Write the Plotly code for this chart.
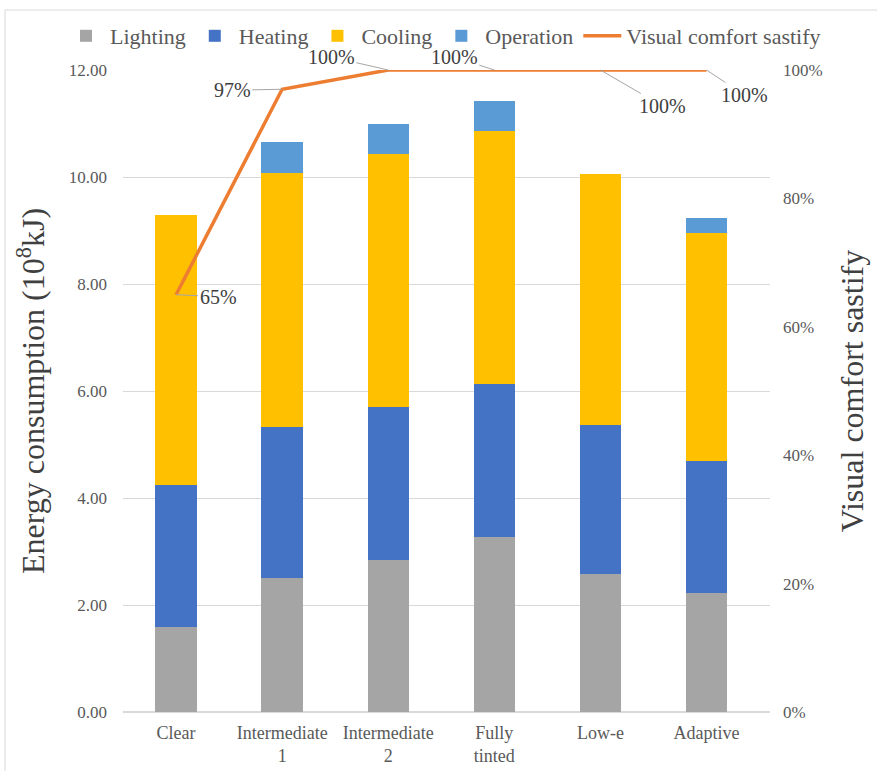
import plotly.graph_objects as go

# Glazing options and annual energy breakdown (10^8 kJ)
categories = ["Clear", "Intermediate<br>1", "Intermediate<br>2", "Fully<br>tinted", "Low-e", "Adaptive"]
lighting = [1.59, 2.50, 2.84, 3.27, 2.58, 2.22]
heating = [2.65, 2.83, 2.86, 2.86, 2.78, 2.47]
cooling = [5.05, 4.74, 4.73, 4.73, 4.70, 4.26]
operation = [0.00, 0.58, 0.56, 0.56, 0.00, 0.28]
comfort = [0.65, 0.97, 1.00, 1.00, 1.00, 1.00]
comfort_labels = ["65%", "97%", "100%", "100%", "100%", "100%"]

# label offsets (px) for the comfort data labels
label_dx = [42, -50, -57, -40, 62, 38]
label_dy = [2, 1, -13, -13, 36, 25]

FONT = "Liberation Serif"
GRAY_TXT = "#595959"

fig = go.Figure()
for name, vals, col in [("Lighting", lighting, "#A5A5A5"),
                        ("Heating", heating, "#4472C4"),
                        ("Cooling", cooling, "#FFC000"),
                        ("Operation", operation, "#5B9BD5")]:
    fig.add_trace(go.Bar(x=categories, y=vals, name=name, marker_color=col,
                         marker_line_width=0, width=0.39))

fig.add_trace(go.Scatter(x=categories, y=comfort, name="Visual comfort sastify",
                         mode="lines", line=dict(color="#ED7D31", width=3.5),
                         yaxis="y2"))

for c, v, t, dx, dy in zip(categories, comfort, comfort_labels, label_dx, label_dy):
    fig.add_annotation(x=c, y=v, xref="x", yref="y2", text=t, showarrow=True,
                       arrowhead=0, arrowwidth=1, arrowcolor="#A6A6A6",
                       ax=dx, ay=dy, font=dict(family=FONT, size=20, color="#404040"))

L, R, T, B = 123, 107, 70, 59
W, H = 877, 771
pw, ph = W - L - R, H - T - B

def px(xp):
    return (xp - L) / pw

def py(yp):
    return (H - B - yp) / ph

# outer chart frame (top and left edges)
fig.add_shape(type="line", xref="paper", yref="paper", x0=px(5), x1=px(877),
              y0=py(10), y1=py(10), line=dict(color="#D9D9D9", width=1))
fig.add_shape(type="line", xref="paper", yref="paper", x0=px(5), x1=px(5),
              y0=py(10), y1=py(771), line=dict(color="#D9D9D9", width=1))

fig.update_layout(
    width=W, height=H,
    margin=dict(l=L, r=R, t=T, b=B, autoexpand=False),
    barmode="stack",
    plot_bgcolor="white", paper_bgcolor="white",
    font=dict(family=FONT, color=GRAY_TXT),
    legend=dict(orientation="h", x=px(62), xanchor="left", y=py(36), yanchor="middle",
                font=dict(family=FONT, size=22, color=GRAY_TXT), traceorder="normal",
                itemwidth=38, bgcolor="rgba(0,0,0,0)"),
    xaxis=dict(showgrid=False, showline=False, ticks="", ticklabelstandoff=8,
               tickfont=dict(family=FONT, size=18, color=GRAY_TXT)),
    yaxis=dict(range=[0, 12], dtick=2, tickformat=".2f", showgrid=True,
               gridcolor="#D9D9D9", gridwidth=1, zeroline=True, zerolinecolor="#D9D9D9",
               ticks="", ticklabelstandoff=15,
               tickfont=dict(family=FONT, size=17, color=GRAY_TXT),
               title=dict(text="Energy consumption (10<sup>8</sup>kJ)", standoff=14,
                          font=dict(family=FONT, size=32, color="#404040"))),
    yaxis2=dict(range=[0, 1], dtick=0.2, tickformat=".0%", overlaying="y", side="right",
                showgrid=False, zeroline=False, ticks="", ticklabelstandoff=12,
                tickfont=dict(family=FONT, size=17, color=GRAY_TXT),
                title=dict(text="Visual comfort sastify", standoff=18,
                           font=dict(family=FONT, size=32, color="#404040"))),
    bargap=0.61,
)

fig.write_html("out.html")
